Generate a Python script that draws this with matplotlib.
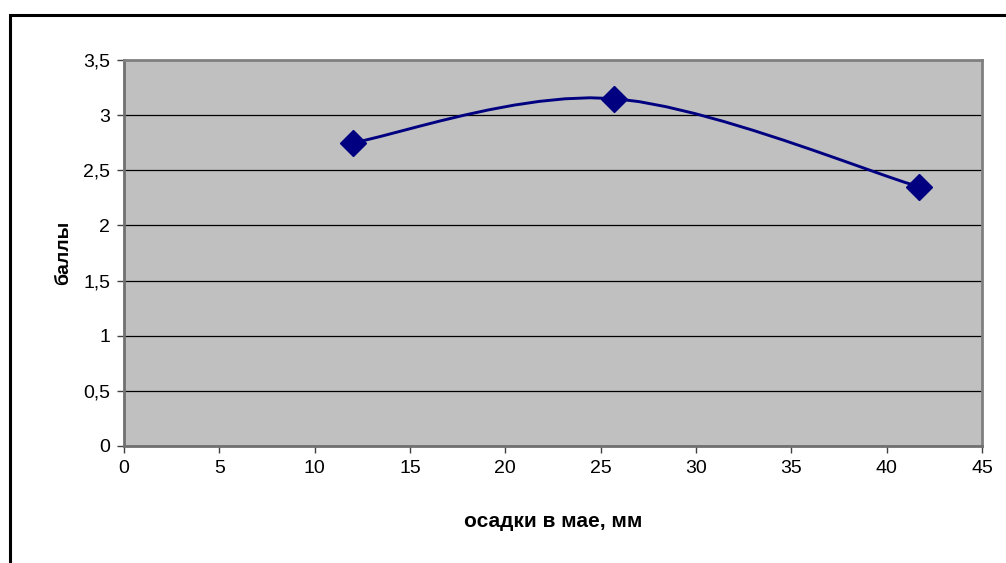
import numpy as np
import matplotlib
matplotlib.use("Agg")
import matplotlib.pyplot as plt
from matplotlib.patches import Rectangle
from matplotlib.ticker import FuncFormatter

# May precipitation (mm) vs. score
precip_mm = [12.0, 25.7, 41.7]
score = [2.75, 3.15, 2.35]

x_ticks = [0, 5, 10, 15, 20, 25, 30, 35, 40, 45]
y_ticks = [0, 0.5, 1, 1.5, 2, 2.5, 3, 3.5]

x_label = "осадки в мае, мм"
y_label = "баллы"


def smooth_curve(xs, ys, n=12):
    """Cardinal (Catmull-Rom style) Bezier smoothing between data points."""
    pts = np.column_stack([xs, ys]).astype(float)
    out = [pts[0]]
    for i in range(len(pts) - 1):
        p0 = pts[i - 1] if i > 0 else pts[i]
        p1 = pts[i]
        p2 = pts[i + 1]
        p3 = pts[i + 2] if i + 2 < len(pts) else pts[i + 1]
        c1 = p1 + (p2 - p0) / 6.0
        c2 = p2 - (p3 - p1) / 6.0
        t = np.linspace(0, 1, n + 1)[1:, None]
        seg = ((1 - t) ** 3) * p1 + 3 * ((1 - t) ** 2) * t * c1 \
            + 3 * (1 - t) * t ** 2 * c2 + t ** 3 * p2
        out.extend(seg)
    out = np.array(out)
    return out[:, 0], out[:, 1]


plt.rcParams["font.family"] = ["Liberation Sans", "DejaVu Sans"]

W, H = 1006, 563
fig = plt.figure(figsize=(W / 100, H / 100), dpi=100)
fig.patch.set_facecolor("white")

# outer chart frame
fig.patches.append(Rectangle((10 / W, -0.1), 1.2, (H - 15) / H + 0.1,
                             transform=fig.transFigure, fill=False,
                             edgecolor="black", linewidth=2.2, zorder=0))

left, right, top, bottom = 124, 982, 60, 446
ax = fig.add_axes([left / W, 1 - bottom / H, (right - left) / W, (bottom - top) / H])
ax.set_facecolor("#c0c0c0")

ax.set_xlim(0, 45)
ax.set_ylim(0, 3.5)
ax.set_xticks(x_ticks)
ax.set_yticks(y_ticks)

fmt = FuncFormatter(lambda v, p: (f"{v:g}").replace(".", ","))
ax.xaxis.set_major_formatter(fmt)
ax.yaxis.set_major_formatter(fmt)

ax.yaxis.grid(True, color="black", linewidth=0.9)
ax.set_axisbelow(True)

for s in ax.spines.values():
    s.set_color("#808080")
    s.set_linewidth(2.0)
ax.spines["left"].set_color("#707070")
ax.spines["bottom"].set_color("#707070")

ax.tick_params(axis="both", direction="out", length=5, width=1.0,
               color="#404040", labelsize=14, labelcolor="black", pad=5)

sx, sy = smooth_curve(precip_mm, score)
ax.plot(sx, sy, color="#000080", linewidth=2.1, zorder=3, clip_on=False)
ax.plot(precip_mm, score, linestyle="none", marker="D", markersize=13,
        color="#000080", zorder=4, clip_on=False)

ax.set_xlabel(x_label, fontsize=15, fontweight="bold", labelpad=25)
ax.set_ylabel(y_label, fontsize=14, fontweight="bold", labelpad=8)

fig.savefig("out.png", dpi=100, facecolor="white")
